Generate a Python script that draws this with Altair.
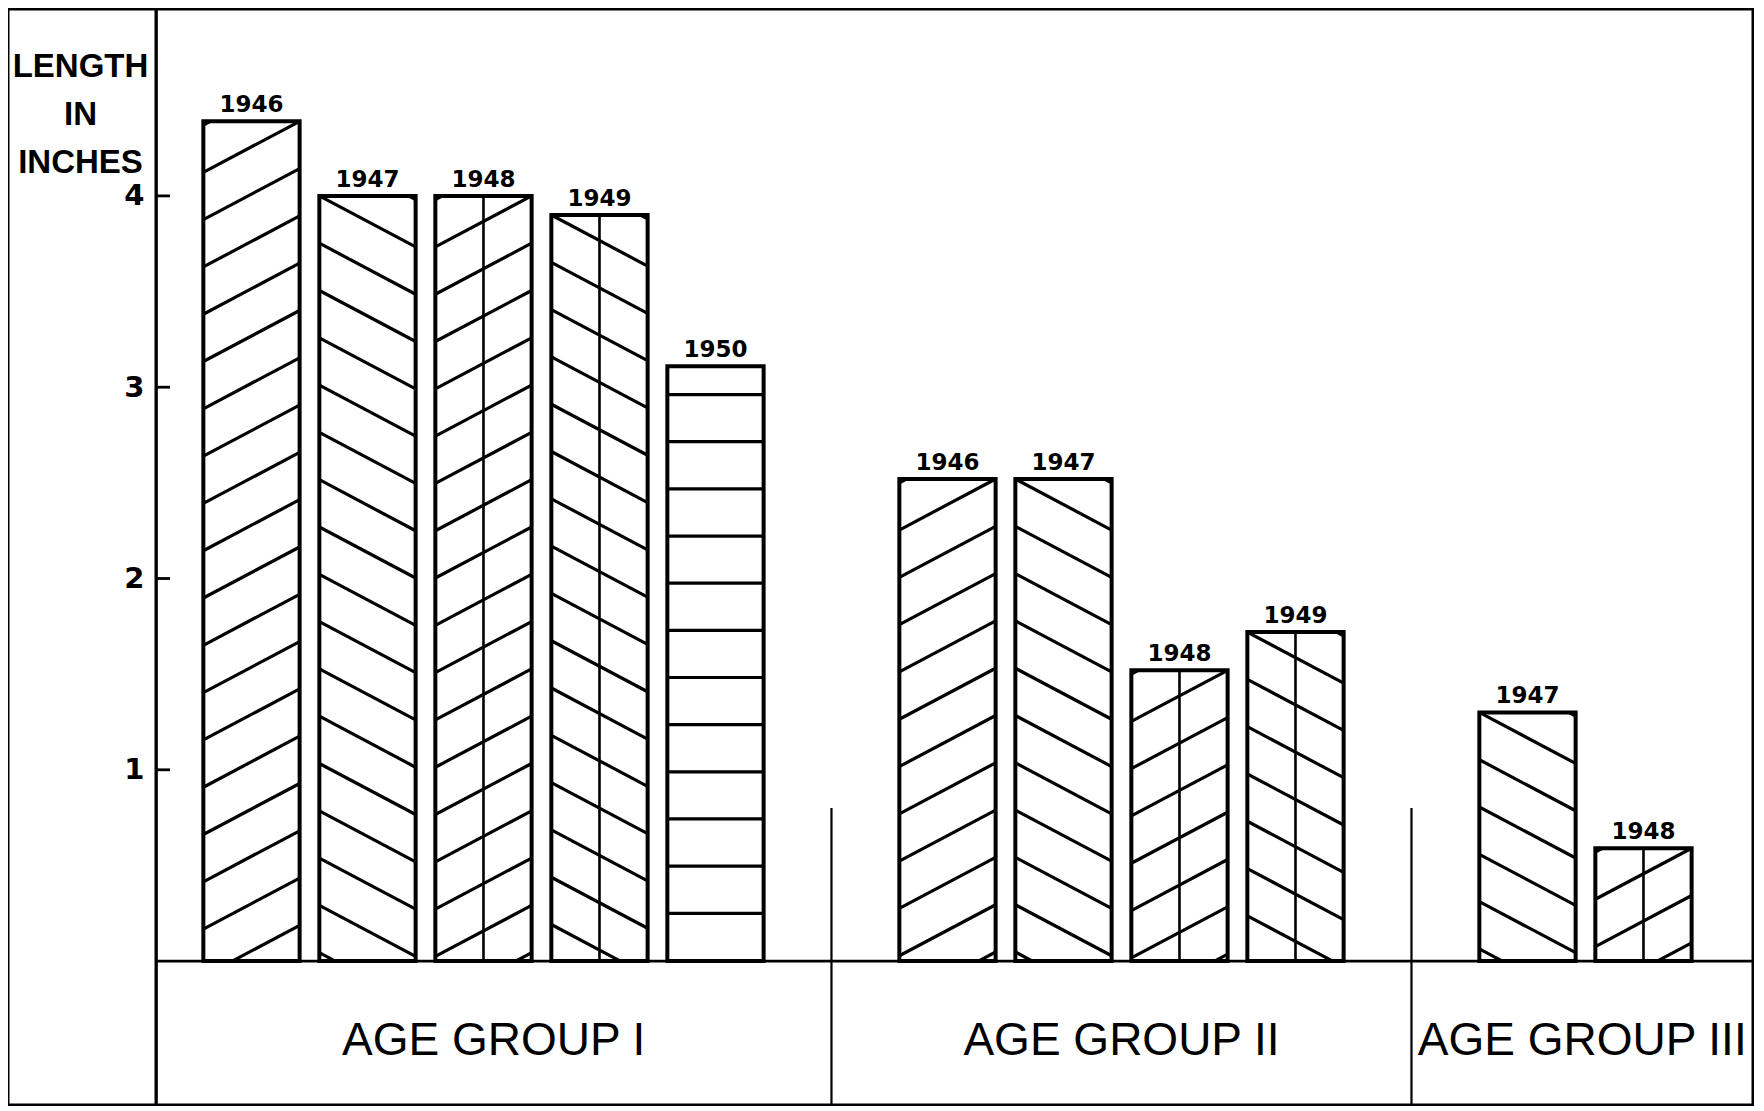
import altair as alt
import pandas as pd

# ---------------- data ----------------
groups = ["AGE GROUP I", "AGE GROUP II", "AGE GROUP III"]
group_years = [
    ["1946", "1947", "1948", "1949", "1950"],
    ["1946", "1947", "1948", "1949"],
    ["1947", "1948"],
]
group_lengths = [
    [4.39, 4.0, 4.0, 3.9, 3.11],
    [2.52, 2.52, 1.52, 1.72],
    [1.3, 0.59],
]
tick_values = [1, 2, 3, 4]
y_title = ["LENGTH", "IN", "INCHES"]
# hatch style of each year's bar
year_pattern = {"1946": "/", "1947": "\\", "1948": "/|", "1949": "\\|", "1950": "-"}

# ---------------- layout / style ----------------
PX_X = 116.0
X_FRAME = -1.099            # left edge of the outer frame (slot units)
LEFT_PAD = 148
X_AXIS = X_FRAME + LEFT_PAD / PX_X
W = 1597
X_MAX = X_AXIS + W / PX_X
H = 1096
Y_MAX = 4.977
PX_Y = 191.3
Y_MIN = Y_MAX - H / PX_Y
HALF = 0.415           # half bar width in slot units
SLOPE = 0.53           # hatch slope (pixel rise per pixel run)
GAP = 47.3             # vertical hatch spacing in pixels
HLINE_START, HLINE_STEP = 0.25, 0.2465
DIVIDER_TOP = 0.8

xs = alt.Scale(domain=[X_AXIS, X_MAX], nice=False, zero=False)
ys = alt.Scale(domain=[Y_MIN, Y_MAX], nice=False, zero=False)

# ---------------- build tables ----------------
bars, segs, mids, dividers, group_lab = [], [], [], [], []
slot = 1
left_edge = X_AXIS
for g, yrs, lens in zip(groups, group_years, group_lengths):
    for i, (yr, v) in enumerate(zip(yrs, lens)):
        xc = slot + i
        bars.append(dict(group=g, year=yr, value=v, x=xc - HALF, x2=xc + HALF, xc=xc, y0=0.0))
        pat = year_pattern[yr]
        Wp = 2 * HALF * PX_X
        Hp = v * PX_Y
        xl = xc - HALF

        def add(x0, h0, x1, h1):
            segs.append(dict(x=xl + x0 / PX_X, y=h0 / PX_Y, x2=xl + x1 / PX_X, y2=h1 / PX_Y))

        if pat.startswith("/"):
            c0 = Hp - SLOPE * Wp
            for k in range(-3, 200):
                c = c0 - k * GAP
                a = max(0.0, -c / SLOPE)
                b = min(Wp, (Hp - c) / SLOPE)
                if b - a > 1.0:
                    add(a, c + SLOPE * a, b, c + SLOPE * b)
        elif pat.startswith("\\"):
            c0 = Hp
            for k in range(-3, 200):
                c = c0 - k * GAP
                a = max(0.0, (c - Hp) / SLOPE)
                b = min(Wp, c / SLOPE)
                if b - a > 1.0:
                    add(a, c - SLOPE * a, b, c - SLOPE * b)
        elif pat == "-":
            hv = HLINE_START
            while hv < v - 0.05:
                segs.append(dict(x=xl, x2=xc + HALF, y=hv, y2=hv))
                hv += HLINE_STEP
        if pat.endswith("|"):
            mids.append(dict(x=xc, y=0.0, y2=v))
    right_edge = slot + len(yrs)
    if g != groups[-1]:
        dividers.append(dict(x=right_edge, y=DIVIDER_TOP, y2=Y_MIN))
        group_lab.append(dict(group=g, x=(left_edge + right_edge) / 2))
        left_edge = right_edge
    else:
        group_lab.append(dict(group=g, x=(left_edge + X_MAX) / 2))
    slot = right_edge + 1

bars_df = pd.DataFrame(bars)
segs_df = pd.DataFrame(segs)
mids_df = pd.DataFrame(mids)
div_df = pd.DataFrame(dividers)
glab_df = pd.DataFrame(group_lab)
glab_df["y"] = -0.49
ticks_df = pd.DataFrame(dict(v=tick_values, x=X_AXIS, x2=X_AXIS + 14 / PX_X))
base_df = pd.DataFrame([dict(x=X_AXIS, x2=X_MAX, y=0.0)])
frame_h_df = pd.DataFrame([dict(x=X_FRAME, x2=X_AXIS, y=Y_MAX), dict(x=X_FRAME, x2=X_AXIS, y=Y_MIN)])
frame_v_df = pd.DataFrame([dict(x=X_FRAME, y=Y_MIN, y2=Y_MAX)])

y_axis = alt.Axis(
    values=tick_values, ticks=False, grid=False,
    domainColor="black", domainWidth=2.4,
    labelFont="DejaVu Sans", labelFontWeight="bold", labelFontSize=29,
    labelColor="black", labelPadding=12,
    title=y_title, titleAngle=0, titleAlign="center", titleBaseline="alphabetic",
    titleX=-76, titleY=67, titleFont="Liberation Sans", titleFontWeight="bold",
    titleFontSize=33, titleLineHeight=48, titleColor="black",
)


def X(field):
    return alt.X(field, scale=xs, axis=None)


def Y(field):
    return alt.Y(field, scale=ys, axis=y_axis)


fill = alt.Chart(bars_df).mark_rect(fill="white", strokeWidth=0).encode(
    x=X("x:Q"), x2="x2:Q", y=Y("value:Q"), y2="y0:Q",
)

hatch = alt.Chart(segs_df).mark_rule(color="black", strokeWidth=3.2).encode(
    x=X("x:Q"), x2="x2:Q", y=Y("y:Q"), y2="y2:Q",
)

mid = alt.Chart(mids_df).mark_rule(color="black", strokeWidth=2.6).encode(
    x=X("x:Q"), y=Y("y:Q"), y2="y2:Q",
)

outline = alt.Chart(bars_df).mark_rect(fillOpacity=0, stroke="black", strokeWidth=4).encode(
    x=X("x:Q"), x2="x2:Q", y=Y("value:Q"), y2="y0:Q",
)

year_text = alt.Chart(bars_df).mark_text(
    font="DejaVu Sans", fontWeight="bold", fontSize=23, color="black",
    baseline="alphabetic", align="center", dy=-9,
).encode(
    x=X("xc:Q"), y=Y("value:Q"), text="year:N",
)

baseline = alt.Chart(base_df).mark_rule(color="black", strokeWidth=2.8).encode(
    x=X("x:Q"), x2="x2:Q", y=Y("y:Q"),
)

divs = alt.Chart(div_df).mark_rule(color="black", strokeWidth=2.2).encode(
    x=X("x:Q"), y=Y("y:Q"), y2="y2:Q",
)

ticks = alt.Chart(ticks_df).mark_rule(color="black", strokeWidth=2.8).encode(
    x=X("x:Q"), x2="x2:Q", y=Y("v:Q"),
)

frame_h = alt.Chart(frame_h_df).mark_rule(color="black", strokeWidth=3).encode(
    x=X("x:Q"), x2="x2:Q", y=Y("y:Q"),
)
frame_v = alt.Chart(frame_v_df).mark_rule(color="black", strokeWidth=3).encode(
    x=X("x:Q"), y=Y("y:Q"), y2="y2:Q",
)

group_text = alt.Chart(glab_df).mark_text(
    font="Liberation Sans", fontSize=46, color="black",
    baseline="alphabetic", align="center",
).encode(
    x=X("x:Q"), y=Y("y:Q"), text="group:N",
)

chart = alt.layer(
    fill, hatch, mid, outline, year_text, baseline, divs, ticks,
    frame_h, frame_v, group_text
).properties(
    width=W, height=H,
    autosize=alt.AutoSizeParams(type="none"),
    padding={"left": LEFT_PAD, "top": 1, "right": 1, "bottom": 1},
    background="white",
).configure_view(stroke="black", strokeWidth=3)

chart.save("out.html", embed_options={"renderer": "svg", "actions": False})
